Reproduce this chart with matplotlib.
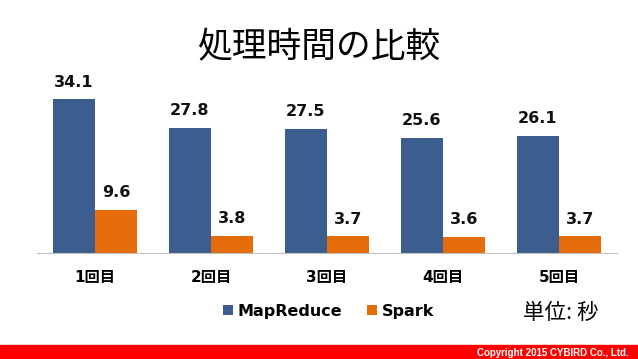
import matplotlib
matplotlib.use("Agg")
import matplotlib.pyplot as plt
import numpy as np
from matplotlib.patches import Rectangle

plt.rcParams['font.family'] = ['DejaVu Sans', 'Noto Sans CJK JP']

categories = ["1回目", "2回目", "3回目", "4回目", "5回目"]
mapreduce = [34.1, 27.8, 27.5, 25.6, 26.1]
spark = [9.6, 3.8, 3.7, 3.6, 3.7]
series_names = ["MapReduce", "Spark"]
title = "処理時間の比較"
unit_label = "単位: 秒"
copyright_text = "Copyright 2015 CYBIRD Co., Ltd."

blue = "#3B5E8E"
orange = "#E46C0A"
cjk = ['Noto Sans CJK JP', 'DejaVu Sans']

fig = plt.figure(figsize=(6.38, 3.59), dpi=100)
ax = fig.add_axes([0.058, 0.295, 0.909, 0.502])

x = np.arange(len(categories))
w = 0.362
b1 = ax.bar(x - w/2, mapreduce, w, color=blue, label=series_names[0])
b2 = ax.bar(x + w/2, spark, w, color=orange, label=series_names[1])

for bars, vals in ((b1, mapreduce), (b2, spark)):
    for r, v in zip(bars, vals):
        ax.annotate(f"{v:.1f}", (r.get_x() + r.get_width()/2, v),
                    xytext=(0, 7), textcoords="offset points",
                    ha="center", va="bottom", fontsize=11.5, fontweight="bold",
                    color="#111111")

ax.set_xlim(-0.5, len(categories) - 0.5)
ax.set_ylim(0, 40)
ax.set_yticks([])
ax.set_xticks(x)
ax.set_xticklabels(categories, fontsize=11, fontweight="bold")
ax.tick_params(axis="x", length=0, pad=12)
for s in ["top", "right", "left"]:
    ax.spines[s].set_visible(False)
ax.spines["bottom"].set_color("#BFBFBF")

fig.text(0.5, 0.866, title, ha="center", va="center", fontsize=25, family=cjk)

leg = fig.legend(loc="center", bbox_to_anchor=(0.515, 0.133), ncol=2, frameon=False,
                 prop={"size": 11.5, "weight": "bold"}, handlelength=0.6,
                 handleheight=0.6, handletextpad=0.3, columnspacing=1.6)

fig.text(0.879, 0.127, unit_label, ha="center", va="center", fontsize=15.5, family=cjk)

fig.add_artist(Rectangle((0, 0), 1, 14/359, transform=fig.transFigure,
                         color="#FF0000", zorder=0))
fig.text(0.985, 0.018, copyright_text, ha="right", va="center", fontsize=7,
         color="white", fontweight="bold", family=["Liberation Sans"])

fig.savefig("out.png", dpi=100)
